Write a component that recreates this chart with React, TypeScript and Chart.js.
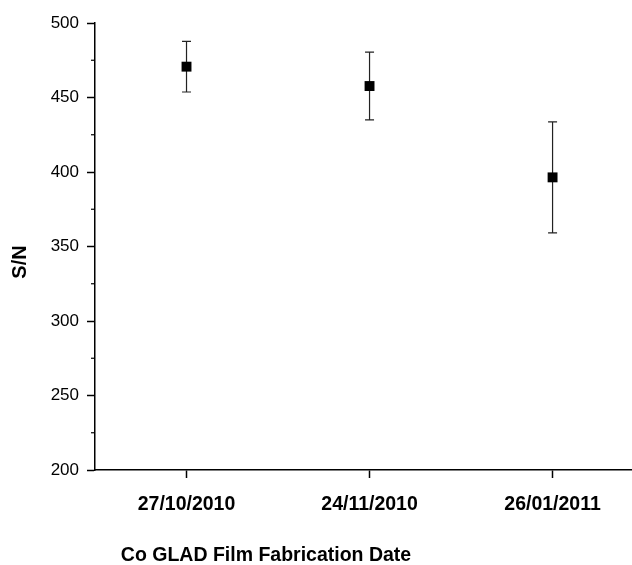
import React, { useEffect, useRef } from 'react';
import { Chart, registerables } from 'chart.js';

Chart.register(...registerables);

const categories = ['27/10/2010', '24/11/2010', '26/01/2011'];
const xPositions = [1, 2, 3];
const snValues = [470.7, 457.7, 396.4];
const snErrors = [17.0, 22.7, 37.2];
const yMinorTicks = [225, 275, 325, 375, 425, 475];
const xTitle = 'Co GLAD Film Fabrication Date';
const yTitle = 'S/N';

const FONT = "'Liberation Sans', Arial, sans-serif";

const errorBarPlugin = {
  id: 'errorBars',
  beforeDatasetsDraw(chart: any) {
    const xs = chart.scales.x;
    const ys = chart.scales.y;
    const ctx = chart.ctx;
    ctx.save();
    ctx.strokeStyle = '#222';
    ctx.lineWidth = 1.2;
    xPositions.forEach((xv, i) => {
      const x = xs.getPixelForValue(xv);
      const yTop = ys.getPixelForValue(snValues[i] + snErrors[i]);
      const yBot = ys.getPixelForValue(snValues[i] - snErrors[i]);
      ctx.beginPath();
      ctx.moveTo(x, yTop);
      ctx.lineTo(x, yBot);
      ctx.moveTo(x - 4.5, yTop);
      ctx.lineTo(x + 4.5, yTop);
      ctx.moveTo(x - 4.5, yBot);
      ctx.lineTo(x + 4.5, yBot);
      ctx.stroke();
    });
    ctx.restore();
  },
};

const extrasPlugin = {
  id: 'extras',
  afterDraw(chart: any) {
    const ys = chart.scales.y;
    const ctx = chart.ctx;
    const left = chart.chartArea.left;
    ctx.save();
    ctx.strokeStyle = '#000';
    ctx.lineWidth = 1.2;
    yMinorTicks.forEach((v) => {
      const y = ys.getPixelForValue(v);
      ctx.beginPath();
      ctx.moveTo(left - 4, y);
      ctx.lineTo(left, y);
      ctx.stroke();
    });
    ctx.fillStyle = '#000';
    ctx.textAlign = 'center';
    ctx.textBaseline = 'middle';
    ctx.font = `bold 19.5px ${FONT}`;
    ctx.fillText(xTitle, 266, 556);
    ctx.translate(20, 262);
    ctx.rotate(-Math.PI / 2);
    ctx.font = `bold 20px ${FONT}`;
    ctx.fillText(yTitle, 0, 0);
    ctx.restore();
  },
};

export default function App() {
  const ref = useRef<HTMLCanvasElement | null>(null);
  useEffect(() => {
    if (!ref.current) return;
    const chart = new Chart(ref.current, {
      type: 'scatter',
      data: {
        datasets: [
          {
            label: 'S/N',
            data: xPositions.map((x, i) => ({ x, y: snValues[i] })),
            pointStyle: 'rect',
            pointRadius: 7,
            pointHoverRadius: 7,
            backgroundColor: '#000',
            borderColor: '#000',
            borderWidth: 0,
            showLine: false,
          },
        ],
      },
      options: {
        animation: false,
        responsive: false,
        events: [],
        layout: { autoPadding: false, padding: { top: 23, left: 0, right: 0, bottom: 0 } },
        plugins: { legend: { display: false }, tooltip: { enabled: false } },
        scales: {
          x: {
            type: 'linear',
            min: 0.5,
            max: 3.434,
            afterBuildTicks: (s: any) => {
              s.ticks = xPositions.map((v) => ({ value: v }));
            },
            afterFit: (s: any) => {
              s.height = 95;
              s.paddingLeft = 0;
              s.paddingRight = 0;
            },
            ticks: {
              callback: (_v: any, i: number) => categories[i],
              font: { family: FONT, weight: 'bold', size: 19.5 },
              color: '#000',
              padding: 15,
              maxRotation: 0,
              autoSkip: false,
            },
            grid: {
              drawOnChartArea: false,
              drawTicks: true,
              tickLength: 8,
              tickColor: '#000',
              tickWidth: 1.5,
            },
            border: { color: '#000', width: 1.5 },
            title: { display: false },
          },
          y: {
            min: 200,
            max: 500,
            afterFit: (s: any) => {
              s.width = 95;
            },
            ticks: {
              stepSize: 50,
              font: { family: FONT, size: 17 },
              color: '#000',
              padding: 8,
            },
            grid: {
              drawOnChartArea: false,
              drawTicks: true,
              tickLength: 8,
              tickColor: '#000',
              tickWidth: 1.5,
            },
            border: { color: '#000', width: 1.5 },
          },
        },
      },
      plugins: [errorBarPlugin, extrasPlugin],
    } as any);
    return () => chart.destroy();
  }, []);
  return (
    <div style={{ position: 'absolute', left: 0, top: 0, width: 632, height: 565, background: '#fff' }}>
      <canvas ref={ref} width={632} height={565} style={{ width: 632, height: 565, display: 'block' }} />
    </div>
  );
}
